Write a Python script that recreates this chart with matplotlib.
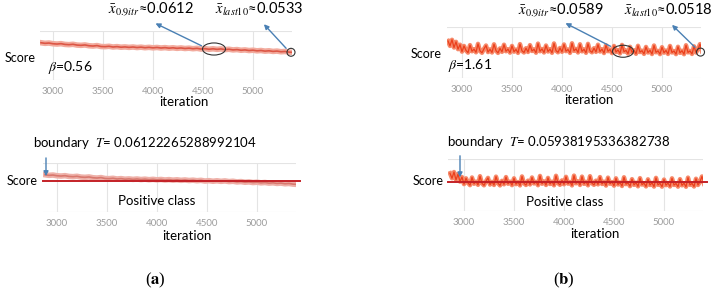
import matplotlib.pyplot as plt
import numpy as np
from matplotlib.patches import Ellipse

plt.rcParams['font.family'] = ['Lato', 'DejaVu Sans']
plt.rcParams['mathtext.fontset'] = 'stix'

# scores for beta = 0.56, one value every 40 iterations from 2880
iter_a = np.arange(2880, 5401, 40)
score_a = [0.0762, 0.0748, 0.0755, 0.0738, 0.0731, 0.0740, 0.0722, 0.0716,
           0.0725, 0.0706, 0.0700, 0.0709, 0.0690, 0.0683, 0.0694, 0.0672,
           0.0668, 0.0677, 0.0660, 0.0669, 0.0655, 0.0662, 0.0651, 0.0660,
           0.0647, 0.0656, 0.0643, 0.0652, 0.0640, 0.0649, 0.0636, 0.0645,
           0.0632, 0.0641, 0.0628, 0.0637, 0.0624, 0.0632, 0.0619, 0.0628,
           0.0611, 0.0620, 0.0606, 0.0617, 0.0604, 0.0614, 0.0598, 0.0606,
           0.0590, 0.0598, 0.0582, 0.0590, 0.0575, 0.0583, 0.0568, 0.0576,
           0.0561, 0.0569, 0.0554, 0.0562, 0.0546, 0.0553, 0.0537, 0.0531]

# scores for beta = 1.61, one value every 20 iterations from 2860
iter_b = np.arange(2860, 5401, 20)
score_b = [0.0700, 0.0640, 0.0715, 0.0620, 0.0690, 0.0600, 0.0655, 0.0570,
           0.0640, 0.0585, 0.0558, 0.0650, 0.0575, 0.0600, 0.0562, 0.0665,
           0.0580, 0.0556, 0.0605, 0.0645, 0.0565, 0.0598, 0.0560, 0.0660,
           0.0582, 0.0555, 0.0610, 0.0568, 0.0655, 0.0575, 0.0600, 0.0558,
           0.0640, 0.0570, 0.0596, 0.0555, 0.0662, 0.0580, 0.0560, 0.0612,
           0.0566, 0.0650, 0.0578, 0.0598, 0.0557, 0.0668, 0.0575, 0.0603,
           0.0560, 0.0645, 0.0572, 0.0600, 0.0556, 0.0670, 0.0582, 0.0562,
           0.0615, 0.0568, 0.0658, 0.0576, 0.0596, 0.0555, 0.0672, 0.0580,
           0.0604, 0.0560, 0.0660, 0.0574, 0.0598, 0.0556, 0.0665, 0.0580,
           0.0562, 0.0612, 0.0567, 0.0655, 0.0572, 0.0600, 0.0553, 0.0648,
           0.0575, 0.0596, 0.0552, 0.0640, 0.0566, 0.0590, 0.0548, 0.0652,
           0.0570, 0.0585, 0.0546, 0.0630, 0.0562, 0.0588, 0.0544, 0.0642,
           0.0565, 0.0582, 0.0543, 0.0628, 0.0560, 0.0586, 0.0541, 0.0645,
           0.0562, 0.0580, 0.0540, 0.0625, 0.0558, 0.0584, 0.0542, 0.0640,
           0.0560, 0.0578, 0.0540, 0.0630, 0.0556, 0.0582, 0.0539, 0.0648,
           0.0561, 0.0579, 0.0542, 0.0635, 0.0560, 0.0600, 0.0662, 0.0575]

xticks = [3000, 3500, 4000, 4500, 5000]
beta = [0.56, 1.61]
mean_09 = [0.0612, 0.0589]
mean_last10 = [0.0533, 0.0518]
boundary = [0.06122265288992104, 0.05938195336382738]
panel = ['a', 'b']

W, H = 715, 292
fig = plt.figure(figsize=(W / 100, H / 100), dpi=100)
fig.patch.set_facecolor('white')


def px(x, y):
    return x / W, 1 - y / H


def make_ax(x0, y0, x1, y1, xlim, ylim):
    ax = fig.add_axes([x0 / W, 1 - y1 / H, (x1 - x0) / W, (y1 - y0) / H])
    ax.set_xlim(*xlim)
    ax.set_ylim(*ylim)
    for s in ax.spines.values():
        s.set_visible(False)
    ax.set_xticks(xticks)
    ax.set_yticks(ylim)
    ax.set_yticklabels([])
    ax.tick_params(length=0, labelsize=7, labelcolor='#9c9c9c', pad=5)
    ax.grid(True, color='#e4e4e4', lw=0.8)
    ax.set_axisbelow(True)
    return ax


blue = '#4a80b4'
arrow = dict(arrowstyle='-|>', color=blue, lw=1.0, mutation_scale=7)
ring = dict(fill=False, ec='#333333', lw=0.8, clip_on=False, zorder=5)

# ---- panel (a) ----
ylim_a = (-0.0132, 0.1044)
ax = make_ax(40, 31, 292, 80, (2870, 5390), ylim_a)
ax.plot(iter_a, score_a, color='#f2ab9e', lw=4)
ax.plot(iter_a, score_a, color='#dc5645', lw=1.2)
ax.add_patch(Ellipse((4610, mean_09[0]), 230, 0.029, **ring))
ax.add_patch(Ellipse((5380, mean_last10[0]), 80, 0.019, **ring))
ax.annotate('', xy=(4000, 1.18), xycoords=('data', 'axes fraction'),
            xytext=(4510, 0.066), textcoords='data', arrowprops=arrow, annotation_clip=False)
ax.annotate('', xy=(5090, 1.18), xycoords=('data', 'axes fraction'),
            xytext=(5350, 0.058), textcoords='data', arrowprops=arrow, annotation_clip=False)
fig.text(*px(151, 9), r'$\bar{x}_{0.9itr}$≈%.4f' % mean_09[0], ha='center', va='center', fontsize=10.5)
fig.text(*px(259, 9), r'$\bar{x}_{last10}$≈%.4f' % mean_last10[0], ha='center', va='center', fontsize=10.5)
fig.text(*px(20, 58), 'Score', ha='center', va='center', fontsize=9)
fig.text(*px(48, 67), r'$\beta$=%.2f' % beta[0], ha='left', va='center', fontsize=10)
fig.text(*px(184, 102), 'iteration', ha='center', va='center', fontsize=9.5)

ax = make_ax(43, 163, 296, 212, (2860, 5390), ylim_a)
ax.plot(iter_a, score_a, color='#eeb0a8', lw=4)
ax.plot(iter_a, score_a, color='#d8786e', lw=1.2)
ax.plot([2860, 5430], [boundary[0], boundary[0]], color='#c42127', lw=1.4, clip_on=False)
ax.annotate('', xy=(2890, 0.066), xycoords='data',
            xytext=(2890, 1.16), textcoords=('data', 'axes fraction'), arrowprops=arrow,
            annotation_clip=False)
fig.text(*px(145, 143), r'boundary  $T$= %s' % repr(boundary[0]), ha='center', va='center', fontsize=9.5)
fig.text(*px(22, 181), 'Score', ha='center', va='center', fontsize=9)
fig.text(*px(157, 201), 'Positive class', ha='center', va='center', fontsize=9.5)
fig.text(*px(187, 236), 'iteration', ha='center', va='center', fontsize=9.5)
fig.text(*px(155, 280), r'($\mathbf{%s}$)' % panel[0], ha='center', va='center', fontsize=12,
         family='Liberation Serif')

# ---- panel (b) ----
ylim_b = (0.025, 0.087)
ax = make_ax(447, 27, 701, 78, (2850, 5390), ylim_b)
ax.plot(iter_b, score_b, color='#f6896a', lw=3.2)
ax.plot(iter_b, score_b, color='#eb3f1b', lw=0.9)
ax.add_patch(Ellipse((4610, 0.0575), 210, 0.0146, **ring))
ax.add_patch(Ellipse((5385, 0.0565), 80, 0.0097, **ring))
ax.annotate('', xy=(4010, 1.10), xycoords=('data', 'axes fraction'),
            xytext=(4510, 0.0620), textcoords='data', arrowprops=arrow, annotation_clip=False)
ax.annotate('', xy=(5080, 1.08), xycoords=('data', 'axes fraction'),
            xytext=(5350, 0.0600), textcoords='data', arrowprops=arrow, annotation_clip=False)
fig.text(*px(561, 10), r'$\bar{x}_{0.9itr}$≈%.4f' % mean_09[1], ha='center', va='center', fontsize=10.5)
fig.text(*px(668, 10), r'$\bar{x}_{last10}$≈%.4f' % mean_last10[1], ha='center', va='center', fontsize=10.5)
fig.text(*px(426, 54), 'Score', ha='center', va='center', fontsize=9)
fig.text(*px(448, 65), r'$\beta$=%.2f' % beta[1], ha='left', va='center', fontsize=10)
fig.text(*px(589, 100), 'iteration', ha='center', va='center', fontsize=9.5)

ax = make_ax(448, 159, 703, 211, (2840, 5390), ylim_b)
ax.plot(iter_b, score_b, color='#f6896a', lw=3.2)
ax.plot(iter_b, score_b, color='#eb3f1b', lw=0.9)
ax.plot([2840, 5430], [boundary[1], boundary[1]], color='#c42127', lw=1.4, clip_on=False)
ax.annotate('', xy=(2960, 0.0618), xycoords='data',
            xytext=(2960, 1.115), textcoords=('data', 'axes fraction'), arrowprops=arrow,
            annotation_clip=False)
fig.text(*px(559, 142), r'boundary  $T$= %s' % repr(boundary[1]), ha='center', va='center', fontsize=9.5)
fig.text(*px(428, 181), 'Score', ha='center', va='center', fontsize=9)
fig.text(*px(565, 202), 'Positive class', ha='center', va='center', fontsize=9.5)
fig.text(*px(595, 234), 'iteration', ha='center', va='center', fontsize=9.5)
fig.text(*px(564, 280), r'($\mathbf{%s}$)' % panel[1], ha='center', va='center', fontsize=12,
         family='Liberation Serif')

fig.savefig('out.png', dpi=100, facecolor='white')
